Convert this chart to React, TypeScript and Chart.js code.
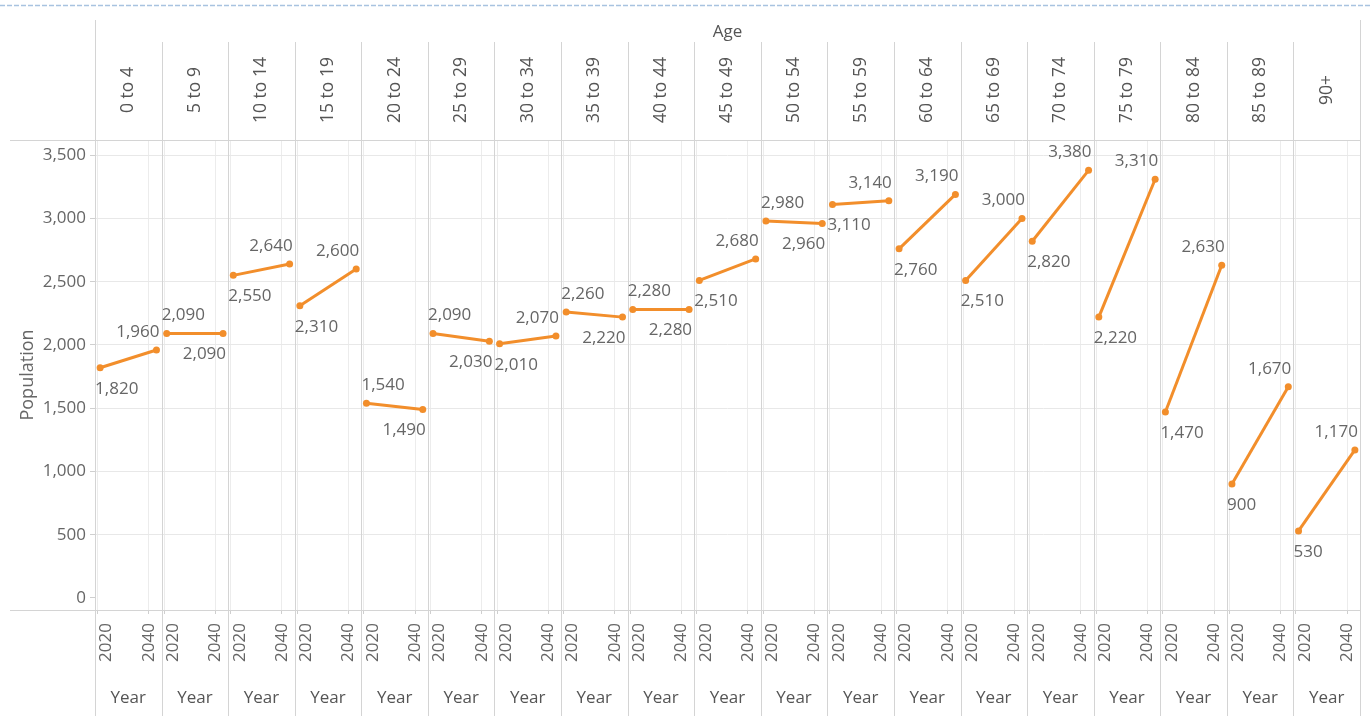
import React, { useEffect, useRef } from 'react';
import { Chart, registerables } from 'chart.js';

Chart.register(...registerables);

const AGE_GROUPS = [
  '0 to 4', '5 to 9', '10 to 14', '15 to 19', '20 to 24', '25 to 29', '30 to 34',
  '35 to 39', '40 to 44', '45 to 49', '50 to 54', '55 to 59', '60 to 64', '65 to 69',
  '70 to 74', '75 to 79', '80 to 84', '85 to 89', '90+',
];
const POP_2020 = [1820, 2090, 2550, 2310, 1540, 2090, 2010, 2260, 2280, 2510, 2980, 3110, 2760, 2510, 2820, 2220, 1470, 900, 530];
const POP_2040 = [1960, 2090, 2640, 2600, 1490, 2030, 2070, 2220, 2280, 2680, 2960, 3140, 3190, 3000, 3380, 3310, 2630, 1670, 1170];
const POINT_YEARS = [2021, 2043];
const YEAR_TICKS = [2020, 2040];
const Y_TICKS = [0, 500, 1000, 1500, 2000, 2500, 3000, 3500];

const AXIS_START = 2019;
const PANEL_SPAN = 26;

const FONT = '"Open Sans", sans-serif';
const TEXT = '#666666';
const HEAD = '#555555';
const ORANGE = '#f28e2b';

const fmt = (v: number) => v.toLocaleString('en-US');
const toX = (panel: number, year: number) => panel * PANEL_SPAN + (year - AXIS_START);

const decorations = {
  id: 'decorations',
  beforeDatasetsDraw(chart: any) {
    const { ctx } = chart;
    const xs = chart.scales.x;
    const ca = chart.chartArea;
    ctx.save();
    // dashed top border
    ctx.strokeStyle = '#a8c3e0';
    ctx.lineWidth = 1.5;
    ctx.setLineDash([5, 2]);
    ctx.beginPath();
    ctx.moveTo(0, 5.5);
    ctx.lineTo(1370, 5.5);
    ctx.stroke();
    ctx.setLineDash([]);
    ctx.lineWidth = 1;
    // panel boundaries
    ctx.strokeStyle = '#d4d4d4';
    for (let k = 0; k <= AGE_GROUPS.length; k++) {
      const x = Math.round(xs.getPixelForValue(k * PANEL_SPAN)) + 0.5;
      const top = k === 0 || k === AGE_GROUPS.length ? 20 : 42;
      ctx.beginPath();
      ctx.moveTo(x, top);
      ctx.lineTo(x, 716);
      ctx.stroke();
    }
    // horizontal separators
    ctx.beginPath();
    ctx.moveTo(10, Math.round(ca.top) + 0.5);
    ctx.lineTo(ca.right, Math.round(ca.top) + 0.5);
    ctx.moveTo(10, Math.round(ca.bottom) + 0.5);
    ctx.lineTo(ca.right, Math.round(ca.bottom) + 0.5);
    ctx.stroke();

    // headers and footers
    ctx.fillStyle = HEAD;
    ctx.textBaseline = 'middle';
    ctx.textAlign = 'center';
    ctx.font = `17px ${FONT}`;
    ctx.fillText('Age', (ca.left + ca.right) / 2, 32);
    AGE_GROUPS.forEach((g, i) => {
      const cx = xs.getPixelForValue(i * PANEL_SPAN + PANEL_SPAN / 2);
      ctx.save();
      ctx.translate(cx, 90);
      ctx.rotate(-Math.PI / 2);
      ctx.font = `17.5px ${FONT}`;
      ctx.textAlign = 'center';
      ctx.fillText(g, 0, 0);
      ctx.restore();
      ctx.font = `17px ${FONT}`;
      ctx.textAlign = 'center';
      ctx.fillText('Year', cx, 698);
      // year tick labels
      YEAR_TICKS.forEach((yr, j) => {
        const tx = xs.getPixelForValue(toX(i, yr)) + (j === 0 ? 9 : 0);
        ctx.save();
        ctx.translate(tx, 623);
        ctx.rotate(-Math.PI / 2);
        ctx.fillStyle = TEXT;
        ctx.font = `17px ${FONT}`;
        ctx.textAlign = 'right';
        ctx.fillText(String(yr), 0, 0);
        ctx.restore();
      });
    });
    ctx.restore();
  },
  afterDatasetsDraw(chart: any) {
    const { ctx } = chart;
    const xs = chart.scales.x;
    const ys = chart.scales.y;
    ctx.save();
    ctx.font = `17px ${FONT}`;
    ctx.fillStyle = TEXT;
    ctx.textBaseline = 'middle';
    AGE_GROUPS.forEach((_, i) => {
      const v1 = POP_2020[i];
      const v2 = POP_2040[i];
      const x1 = xs.getPixelForValue(toX(i, POINT_YEARS[0]));
      const x2 = xs.getPixelForValue(toX(i, POINT_YEARS[1]));
      const y1 = ys.getPixelForValue(v1);
      const y2 = ys.getPixelForValue(v2);
      const rising = v2 > v1;
      ctx.textAlign = 'left';
      ctx.fillText(fmt(v1), x1 - 5, rising ? y1 + 21 : y1 - 18);
      ctx.textAlign = 'right';
      ctx.fillText(fmt(v2), x2 + 3, rising ? y2 - 18 : y2 + 21);
    });
    ctx.restore();
  },
};

export default function App() {
  const ref = useRef<HTMLCanvasElement | null>(null);

  useEffect(() => {
    document.body.style.margin = '0';
    if (!ref.current) return;
    const datasets = AGE_GROUPS.map((g, i) => ({
      label: g,
      data: [
        { x: toX(i, POINT_YEARS[0]), y: POP_2020[i] },
        { x: toX(i, POINT_YEARS[1]), y: POP_2040[i] },
      ],
      borderColor: ORANGE,
      backgroundColor: ORANGE,
      borderWidth: 3,
      pointRadius: 3.5,
      pointBorderWidth: 0,
      pointBackgroundColor: ORANGE,
      clip: false as any,
    }));

    const tickValues: number[] = [];
    AGE_GROUPS.forEach((_, i) => YEAR_TICKS.forEach((y) => tickValues.push(toX(i, y))));

    const chart = new Chart(ref.current, {
      type: 'line',
      data: { datasets },
      options: {
        responsive: false,
        animation: false,
        devicePixelRatio: 1,
        layout: { padding: { left: 0, right: 10, top: 140, bottom: 0 } },
        plugins: { legend: { display: false }, tooltip: { enabled: false } },
        scales: {
          x: {
            type: 'linear',
            min: 0,
            max: AGE_GROUPS.length * PANEL_SPAN,
            afterBuildTicks: (scale: any) => {
              scale.ticks = tickValues.map((v) => ({ value: v }));
            },
            afterFit: (scale: any) => {
              scale.height = 106;
            },
            border: { display: false },
            grid: { color: '#ececec', tickLength: 4, tickColor: '#cfcfcf' },
            ticks: { display: false, autoSkip: false },
          },
          y: {
            type: 'linear',
            min: -95,
            max: 3620,
            afterBuildTicks: (scale: any) => {
              scale.ticks = Y_TICKS.map((v) => ({ value: v }));
            },
            afterFit: (scale: any) => {
              scale.width = 95;
            },
            border: { display: false },
            grid: {
              color: (c: any) => (c.tick && c.tick.value === 0 ? 'rgba(0,0,0,0)' : '#e8e8e8'),
              tickLength: 5,
              tickColor: '#cfcfcf',
            },
            ticks: {
              padding: 4,
              color: TEXT,
              font: { family: FONT, size: 17 },
              callback: (v: any) => fmt(Number(v)),
            },
            title: {
              display: true,
              text: 'Population',
              color: TEXT,
              font: { family: FONT, size: 18 },
              padding: { top: 17, bottom: 0 },
            },
          },
        },
      },
      plugins: [decorations],
    });
    return () => chart.destroy();
  }, []);

  return (
    <div style={{ position: 'fixed', left: 0, top: 0, width: 1370, height: 716, background: '#fff' }}>
      <canvas ref={ref} width={1370} height={716} />
    </div>
  );
}
